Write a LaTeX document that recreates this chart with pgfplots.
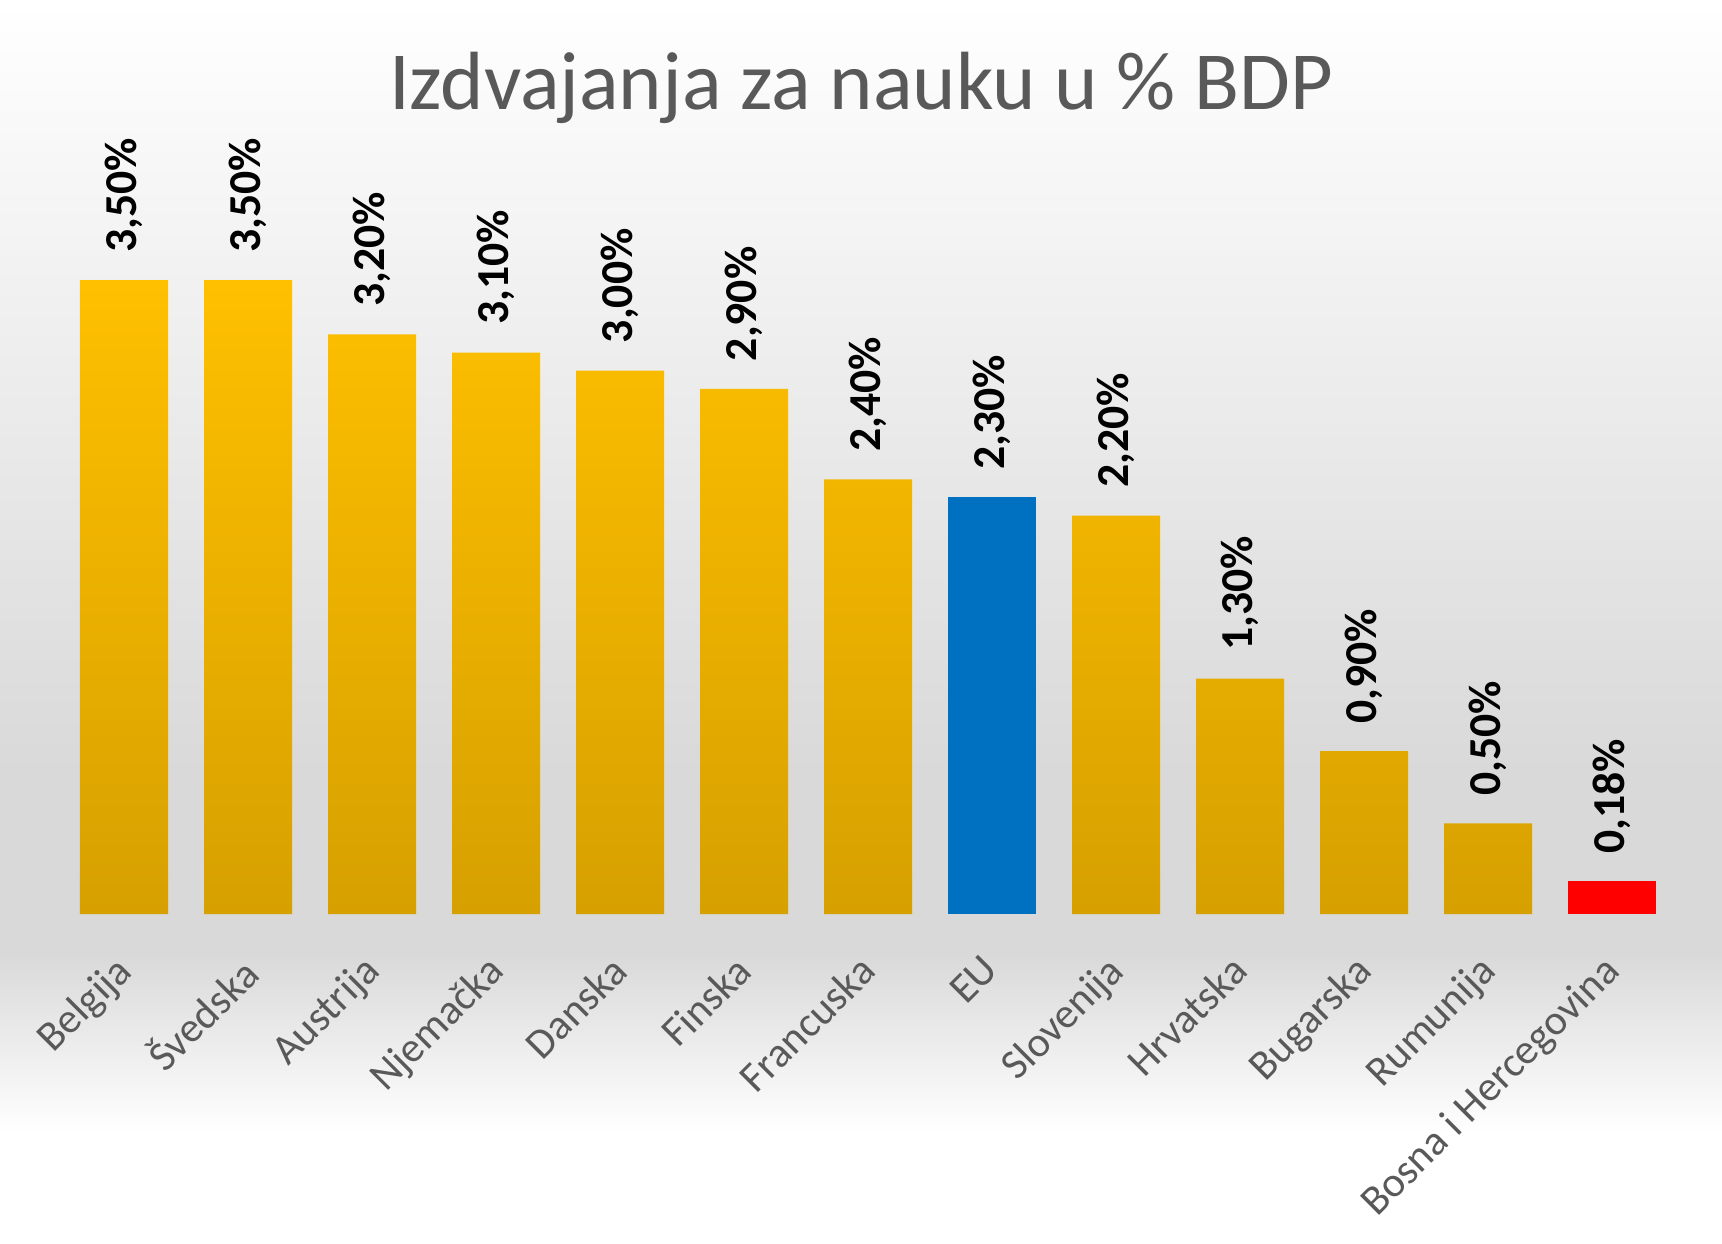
\documentclass[border=0pt]{standalone}
\usepackage{pgfplots}
\pgfplotsset{compat=1.18}
\usepackage{fontspec}
\setmainfont{Carlito}

\definecolor{gold}{HTML}{FFC000}
\definecolor{golddark}{HTML}{D6A000}
\definecolor{eublue}{HTML}{0070C0}
\definecolor{txtgray}{HTML}{595959}
\definecolor{bggray}{HTML}{D9D9D9}

\begin{document}
\begin{tikzpicture}
% background
\shade[top color=white, bottom color=bggray] (0,4.7) rectangle (17.22,12.43);
\fill[bggray] (0,2.9) rectangle (17.22,4.7);
\shade[top color=bggray, bottom color=white] (0,1.1) rectangle (17.22,2.9);
\fill[white] (0,0) rectangle (17.22,1.1);

\node[text=txtgray, font=\fontsize{23.5}{28}\selectfont, anchor=base]
  at (8.61,11.33) {Izdvajanja za nauku u \% BDP};

\begin{axis}[
  at={(0.62cm,3.29cm)}, anchor=south west,
  width=16.12cm, height=7.244cm, scale only axis,
  xmin=-0.5, xmax=12.5, ymin=0, ymax=4,
  axis line style={draw=none},
  major tick length=0pt,
  ytick=\empty,
  xtick={0,...,12},
  xticklabels={Belgija,Švedska,Austrija,Njemačka,Danska,Finska,Francuska,EU,Slovenija,Hrvatska,Bugarska,Rumunija,Bosna i Hercegovina},
  xticklabel style={xshift=-0.11cm, yshift=-0.38cm, rotate=45, anchor=north east, font=\fontsize{12}{14}\selectfont, text=txtgray, inner sep=0pt},
  ybar, bar width=0.88cm, bar shift=0pt,
  nodes near coords={\pgfmathprintnumber[fixed,fixed zerofill,precision=2,use comma,assume math mode=true]{\pgfplotspointmeta}\%},
  every node near coord/.style={rotate=90, anchor=west, text=black,
    font=\bfseries\fontsize{13}{16}\selectfont, inner xsep=2.7mm, inner ysep=0pt},
  clip=false
]
\addplot[draw=none, top color=gold, bottom color=golddark] coordinates {
  (0,3.5) (1,3.5) (2,3.2) (3,3.1) (4,3.0) (5,2.9) (6,2.4)
  (8,2.2) (9,1.3) (10,0.9) (11,0.5)
};
\addplot[draw=none, fill=eublue] coordinates {(7,2.3)};
\addplot[draw=none, fill=red] coordinates {(12,0.18)};
\end{axis}
\end{tikzpicture}
\end{document}
